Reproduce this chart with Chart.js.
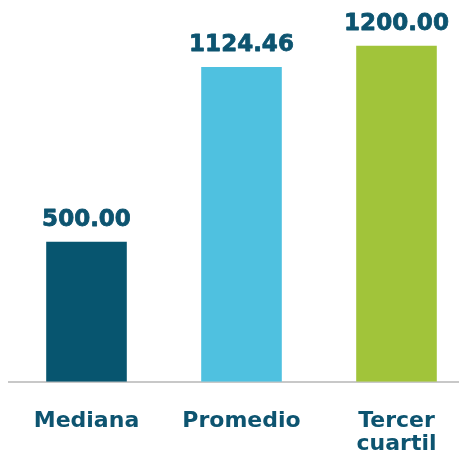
<!DOCTYPE html>
<html>
<head>
<meta charset="utf-8">
<script src="https://cdn.jsdelivr.net/npm/chart.js@4/dist/chart.umd.min.js"></script>
<style>
    html, body { margin: 0; padding: 0; background: #fff; }
    #wrap { width: 459px; height: 450px; overflow: hidden; position: relative; }
    #chart { display: block; }
</style>
</head>
<body>
<div id="wrap"><canvas id="chart" width="474" height="484"></canvas></div>
<script>
const categories = ['Mediana', 'Promedio', ['Tercer', 'cuartil']];
const values = [500.00, 1124.46, 1200.00];
const barColors = ['#07556f', '#4fc1e0', '#a1c43a'];

const textColor = '#0d5470';
const fontFamily = '"DejaVu Sans", sans-serif';

// etiquetas de valor encima de cada barra
const valueLabels = {
    id: 'valueLabels',
    afterDatasetsDraw(chart) {
        const ctx = chart.ctx;
        const meta = chart.getDatasetMeta(0);
        ctx.save();
        ctx.fillStyle = textColor;
        ctx.strokeStyle = textColor;
        ctx.lineWidth = 0.8;
        ctx.lineJoin = 'round';
        ctx.font = 'bold 23px ' + fontFamily;
        ctx.textAlign = 'center';
        ctx.textBaseline = 'alphabetic';
        meta.data.forEach((bar, i) => {
            const txt = values[i].toFixed(2);
            ctx.fillText(txt, bar.x, bar.y - 16);
            ctx.strokeText(txt, bar.x, bar.y - 16);
        });
        ctx.restore();
    }
};

new Chart(document.getElementById('chart'), {
    type: 'bar',
    plugins: [valueLabels],
    data: {
        labels: categories,
        datasets: [{
            data: values,
            backgroundColor: barColors,
            borderWidth: 0,
            barPercentage: 0.52,
            categoryPercentage: 1
        }]
    },
    options: {
        responsive: false,
        animation: false,
        layout: {padding: {left: 9, top: 1, right: 0, bottom: 0}},
        plugins: {
            legend: {display: false},
            tooltip: {enabled: false}
        },
        scales: {
            x: {
                grid: {display: false, drawTicks: false},
                border: {display: true, color: '#c8c8c8', width: 2},
                ticks: {
                    color: textColor,
                    font: {family: fontFamily, size: 22, weight: 'bold', lineHeight: 1.05},
                    padding: 28,
                    maxRotation: 0
                }
            },
            y: {
                display: false,
                min: 0,
                max: 1360
            }
        }
    }
});
</script>
</body>
</html>
